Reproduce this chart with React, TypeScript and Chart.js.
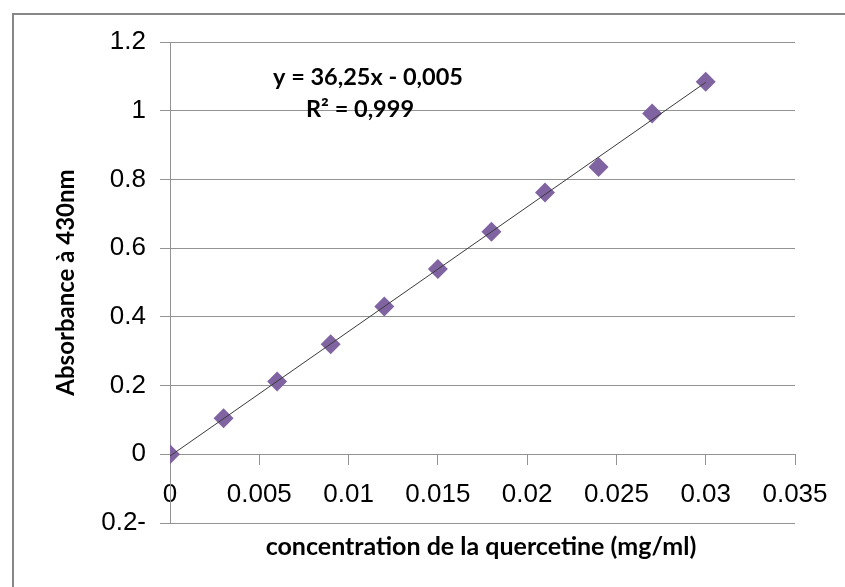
import React, { useEffect, useRef } from 'react';
import { Chart, registerables } from 'chart.js';

Chart.register(...registerables);

// ---- data ----
const concentrations = [0, 0.003, 0.006, 0.009, 0.012, 0.015, 0.018, 0.021, 0.024, 0.027, 0.03];
const absorbances = [0, 0.105, 0.212, 0.32, 0.43, 0.539, 0.648, 0.762, 0.836, 0.992, 1.084];
const trendX = [0, 0.03];
const trendY = [-0.005, 1.0825];
const xMin = 0;
const xMax = 0.035;
const xStep = 0.005;
const yMin = -0.2;
const yMax = 1.2;
const yStep = 0.2;
const xAxisTitle = 'concentration de la quercetine (mg/ml)';
const yAxisTitle = 'Absorbance à 430nm';
const equationLines = ['y = 36,25x - 0,005', 'R² = 0,999'];

const W = 845;
const H = 587;
const GRID = '#939393';
const FRAME = '#878787';
const TITLE_FONT = 'Lato, "Open Sans", sans-serif';
const TICK_FONT = '"Liberation Sans", Arial, sans-serif';

const decorPlugin = {
  id: 'decor',
  beforeDraw(chart: any) {
    const ctx = chart.ctx;
    ctx.save();
    ctx.strokeStyle = FRAME;
    ctx.lineWidth = 2;
    ctx.beginPath();
    ctx.moveTo(13, H);
    ctx.lineTo(13, 14);
    ctx.lineTo(W, 14);
    ctx.stroke();
    ctx.restore();
  },
  afterDraw(chart: any) {
    const ctx = chart.ctx;
    const area = chart.chartArea;
    ctx.save();
    ctx.fillStyle = '#000';
    ctx.textAlign = 'center';
    ctx.textBaseline = 'middle';
    ctx.font = `bold 25px ${TITLE_FONT}`;
    ctx.fillText(xAxisTitle, 481, 547);
    ctx.font = `bold 23.5px ${TITLE_FONT}`;
    ctx.fillText(equationLines[0], area.left + 198, 77);
    ctx.fillText(equationLines[1], area.left + 190, 109);
    ctx.restore();
  },
};

function fmt(v: number) {
  return String(parseFloat(v.toFixed(4)));
}

export default function App() {
  const ref = useRef<HTMLCanvasElement | null>(null);
  useEffect(() => {
    if (!ref.current) return;
    const chart = new Chart(ref.current, {
      type: 'scatter',
      data: {
        datasets: [
          {
            type: 'line',
            label: 'trend',
            data: trendX.map((x, i) => ({ x, y: trendY[i] })),
            borderColor: '#3a3a3a',
            borderWidth: 1,
            pointRadius: 0,
            fill: false,
            order: 0,
          } as any,
          {
            label: 'absorbance',
            data: concentrations.map((x, i) => ({ x, y: absorbances[i] })),
            backgroundColor: '#8064A2',
            borderColor: '#8064A2',
            borderWidth: 0,
            pointStyle: 'rectRot',
            pointRadius: 10,
            order: 1,
          },
        ],
      },
      options: {
        responsive: false,
        animation: false,
        layout: { padding: { left: 0, right: 50, top: 42, bottom: 64 } },
        plugins: {
          legend: { display: false },
          tooltip: { enabled: false },
        },
        scales: {
          x: {
            type: 'linear',
            position: { y: 0 } as any,
            min: xMin,
            max: xMax,
            afterFit: (s: any) => {
              s.height = 0;
            },
            ticks: {
              stepSize: xStep,
              color: '#000',
              font: { family: TICK_FONT, size: 26 },
              padding: 15,
              maxRotation: 0,
              autoSkip: false,
              callback: (v: any) => fmt(Number(v)),
            },
            grid: {
              drawOnChartArea: false,
              drawTicks: true,
              tickLength: 10,
              color: GRID,
              lineWidth: 1,
            },
            border: { display: true, color: GRID, width: 1 },
          },
          y: {
            type: 'linear',
            min: yMin,
            max: yMax,
            afterFit: (s: any) => {
              s.width = 170;
            },
            ticks: {
              stepSize: yStep,
              color: '#000',
              font: { family: TICK_FONT, size: 26 },
              padding: 14,
              callback: (v: any) => {
                const n = Number(v);
                if (Math.abs(n) < 1e-9) return '0';
                return n < 0 ? `${fmt(-n)}-` : fmt(n);
              },
            },
            grid: {
              drawTicks: true,
              tickLength: 10,
              color: GRID,
              lineWidth: 1,
            },
            border: { display: true, color: GRID, width: 1 },
            title: {
              display: true,
              text: yAxisTitle,
              color: '#000',
              font: { family: TITLE_FONT, size: 24, weight: 'bold' },
              padding: { top: 52, bottom: 0 },
            },
          },
        },
      },
      plugins: [decorPlugin],
    });
    return () => chart.destroy();
  }, []);

  return (
    <div style={{ position: 'fixed', left: 0, top: 0, width: W, height: H, background: '#fff' }}>
      <canvas ref={ref} width={W} height={H} style={{ display: 'block', width: W, height: H }} />
    </div>
  );
}
